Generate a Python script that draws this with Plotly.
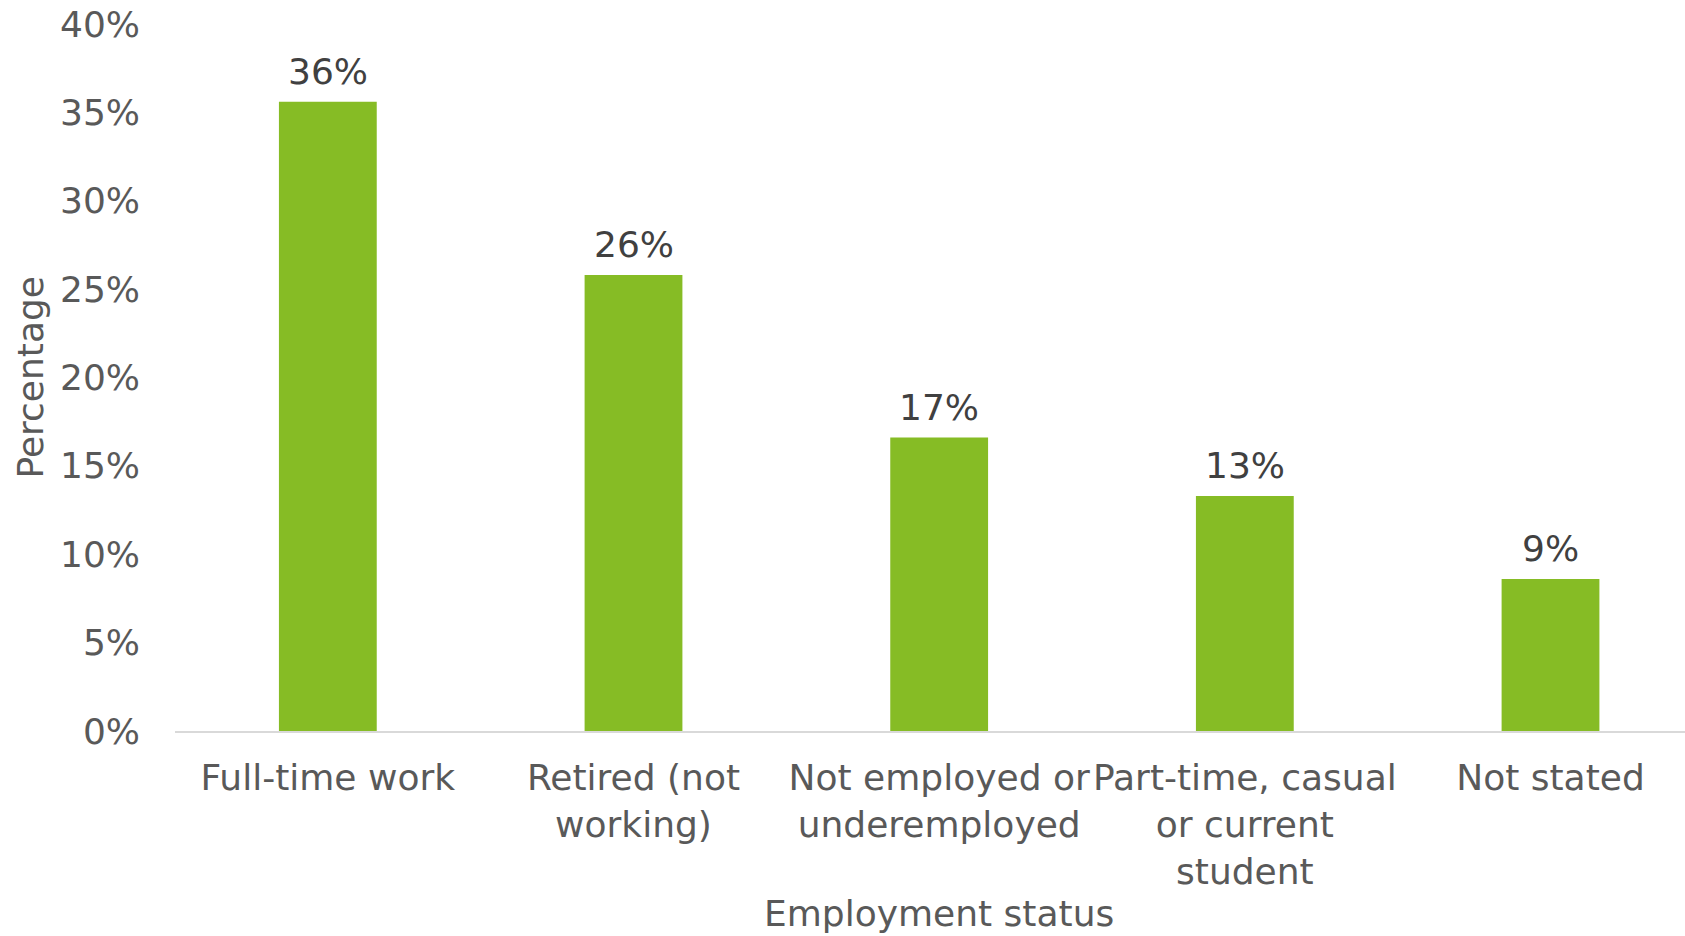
import plotly.graph_objects as go

# Share of respondents by employment status
categories = [
    "Full-time work",
    "Retired (not<br>working)",
    "Not employed or<br>underemployed",
    "Part-time, casual<br>or current<br>student",
    "Not stated",
]
percentages = [35.6, 25.8, 16.6, 13.3, 8.6]
y_ticks = [0, 5, 10, 15, 20, 25, 30, 35, 40]
y_tick_labels = [f"{v}%" for v in y_ticks]

FONT = "DejaVu Sans, Verdana, sans-serif"
FSIZE = 36
GREEN = "#86BC25"
GREY = "#595959"

positions = list(range(len(categories)))

fig = go.Figure(
    go.Bar(
        x=positions,
        y=percentages,
        width=0.32,
        marker=dict(color=GREEN, line=dict(width=0)),
        hoverinfo="skip",
    )
)

# Value labels sitting just above each bar
value_labels = [
    dict(
        x=x,
        y=v,
        xref="x",
        yref="y",
        text=f"{v:.0f}%",
        showarrow=False,
        xanchor="center",
        yanchor="bottom",
        yshift=8,
        font=dict(family=FONT, size=FSIZE, color="#404040"),
    )
    for x, v in zip(positions, percentages)
]

axis_titles = [
    dict(
        text="Percentage",
        xref="paper",
        yref="paper",
        x=-0.096,
        y=0.5,
        xanchor="center",
        yanchor="middle",
        textangle=-90,
        showarrow=False,
        font=dict(family=FONT, size=FSIZE, color=GREY),
    ),
    dict(
        text="Employment status",
        xref="x",
        yref="paper",
        x=2,
        y=-0.258,
        xanchor="center",
        yanchor="middle",
        showarrow=False,
        font=dict(family=FONT, size=FSIZE, color=GREY),
    ),
]

fig.update_layout(
    width=1685,
    height=936,
    margin=dict(l=175, r=0, t=24, b=205),
    paper_bgcolor="white",
    plot_bgcolor="white",
    showlegend=False,
    font=dict(family=FONT, size=FSIZE, color=GREY),
    xaxis=dict(
        tickmode="array",
        tickvals=positions,
        ticktext=categories,
        range=[-0.5, 4.44],
        showgrid=False,
        zeroline=False,
        showline=True,
        linecolor="#D9D9D9",
        linewidth=2,
        ticks="",
        ticklabelstandoff=14,
        tickfont=dict(family=FONT, size=FSIZE, color=GREY),
    ),
    yaxis=dict(
        range=[0, 40],
        tickmode="array",
        tickvals=y_ticks,
        ticktext=y_tick_labels,
        showgrid=False,
        zeroline=False,
        showline=False,
        ticks="",
        ticklabelstandoff=34,
        tickfont=dict(family=FONT, size=FSIZE, color=GREY),
    ),
    annotations=value_labels + axis_titles,
)

fig.write_html("out.html")
